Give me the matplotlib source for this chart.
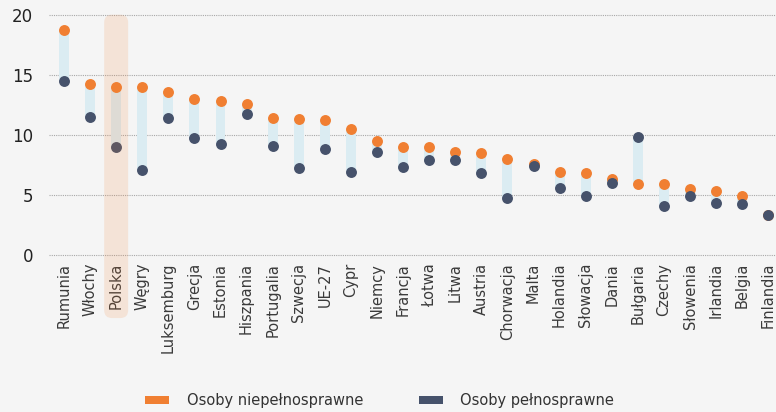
import matplotlib
matplotlib.use("Agg")
import matplotlib.pyplot as plt
from matplotlib.patches import FancyBboxPatch, Rectangle
import numpy as np

countries = ["Rumunia", "Włochy", "Polska", "Węgry", "Luksemburg", "Grecja", "Estonia",
             "Hiszpania", "Portugalia", "Szwecja", "UE-27", "Cypr", "Niemcy", "Francja",
             "Łotwa", "Litwa", "Austria", "Chorwacja", "Malta", "Holandia", "Słowacja",
             "Dania", "Bułgaria", "Czechy", "Słowenia", "Irlandia", "Belgia", "Finlandia"]
disabled = [18.7, 14.2, 14.0, 14.0, 13.6, 13.0, 12.8, 12.6, 11.4, 11.3, 11.2, 10.5, 9.5,
            9.0, 9.0, 8.6, 8.5, 8.0, 7.6, 6.9, 6.8, 6.3, 5.9, 5.9, 5.5, 5.3, 4.9, 3.3]
nondisabled = [14.5, 11.5, 9.0, 7.1, 11.4, 9.7, 9.2, 11.7, 9.1, 7.2, 8.8, 6.9, 8.6,
               7.3, 7.9, 7.9, 6.8, 4.7, 7.4, 5.6, 4.9, 6.0, 9.8, 4.1, 4.9, 4.3, 4.2, 3.3]
legend_labels = ["Osoby niepełnosprawne", "Osoby pełnosprawne"]
highlight = "Polska"

ORANGE = "#f07f32"
DARK = "#46526b"
CONN = "#dbecf2"
BG = "#f5f5f5"

W, H = 776, 412
fig = plt.figure(figsize=(W / 100, H / 100), dpi=100, facecolor=BG)
ax = fig.add_axes([49 / W, (H - 260.7) / H, (W - 49) / W, (260.7 - 8.7) / H])
ax.set_facecolor("none")

x = np.arange(len(countries))
d = np.array(disabled)
n = np.array(nondisabled)
lo = np.minimum(d, n)
hi = np.maximum(d, n)

ax.bar(x, hi - lo, bottom=lo, width=0.38, color=CONN, zorder=2)
ax.scatter(x, d, s=62, color=ORANGE, zorder=3, linewidths=0)
ax.scatter(x, n, s=62, color=DARK, zorder=4, linewidths=0)

ax.set_xlim(-0.575, 27.295)
ax.set_ylim(-0.5, 20.5)
ax.set_yticks([0, 5, 10, 15, 20])
ax.set_xticks(x)
ax.set_xticklabels(countries, rotation=90, fontsize=10.5, color="#3a3a3a")
ax.tick_params(axis="x", length=0, pad=1.5)
ax.tick_params(axis="y", length=0, pad=11.5, labelsize=12, labelcolor="#222222")
for s in ax.spines.values():
    s.set_visible(False)
ax.yaxis.grid(True, linestyle=(0, (1, 1)), color="#a8a8a8", linewidth=0.8, zorder=1)
ax.set_axisbelow(True)

# highlight box for Polska
hi_idx = countries.index(highlight)
px_per_x = (W - 49) / (27.295 + 0.575)
px_per_y = 12.0
aspect = px_per_x / px_per_y
box = FancyBboxPatch((hi_idx - 0.46, -5.28), 0.92, 25.28,
                     boxstyle="round,pad=0,rounding_size=0.3",
                     mutation_aspect=aspect,
                     facecolor=ORANGE, alpha=0.15, edgecolor="none",
                     zorder=10, clip_on=False)
ax.add_patch(box)

# legend
for (px, tx, col, lab) in [(145, 187, ORANGE, legend_labels[0]),
                           (419, 460, DARK, legend_labels[1])]:
    fig.patches.append(Rectangle((px / W, (H - 404) / H), 24 / W, 8 / H,
                                 transform=fig.transFigure, facecolor=col,
                                 edgecolor="none"))
    fig.text(tx / W, (H - 400) / H, lab, fontsize=10.5, color="#333333",
             va="center", ha="left")

fig.savefig("out.png", dpi=100, facecolor=BG)
